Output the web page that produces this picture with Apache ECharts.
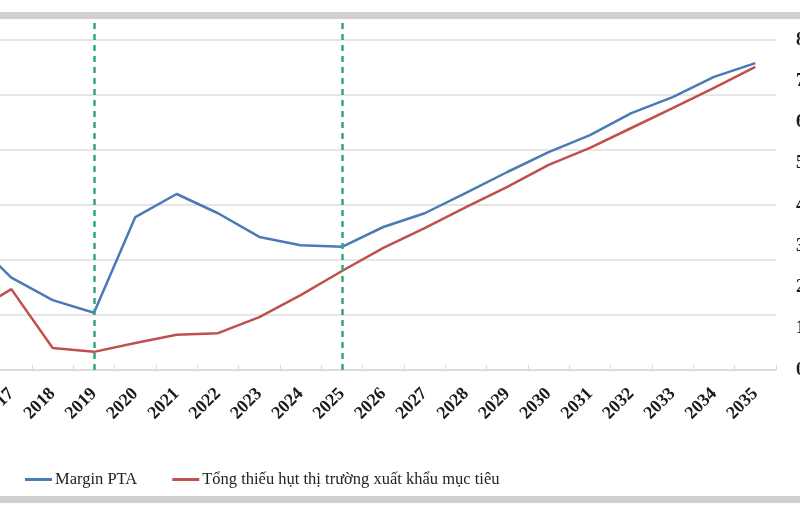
<!DOCTYPE html>
<html>
<head>
<meta charset="utf-8">
<script src="https://cdn.jsdelivr.net/npm/echarts@6/dist/echarts.min.js"></script>
<style>
  html, body { margin: 0; padding: 0; background: #fff; }
  #chart { width: 800px; height: 520px; }
</style>
</head>
<body>
<div id="chart"></div>
<script>
// categories (2016 sits just off the left edge, like the cropped source)
var years = ['2016','2017','2018','2019','2020','2021','2022','2023','2024','2025',
             '2026','2027','2028','2029','2030','2031','2032','2033','2034','2035'];
// Margin PTA
var marginPTA = [24.2, 16.8, 12.7, 10.4, 27.8, 32.0, 28.5, 24.2, 22.7, 22.4,
                 26.0, 28.5, 32.2, 36.0, 39.6, 42.7, 46.7, 49.6, 53.3, 55.8];
// Tong thieu hut thi truong xuat khau muc tieu
var shortfall = [10.2, 14.7, 4.0, 3.3, 4.9, 6.4, 6.7, 9.6, 13.6, 18.0,
                 22.2, 25.8, 29.6, 33.3, 37.3, 40.4, 44.0, 47.6, 51.3, 55.1];
// vertical dashed separators
var dividerYears = ['2019', '2025'];
var rightTicks = [0, 8, 1]; // min, max, step of the right-hand axis

var serif = '"Liberation Serif", "DejaVu Serif", serif';

var chart = echarts.init(document.getElementById('chart'));

var option = {
  backgroundColor: '#fff',
  animation: false,
  graphic: [
    { type: 'rect', shape: { x: 0, y: 12, width: 800, height: 7 }, style: { fill: '#d0d0d0' } },
    { type: 'rect', shape: { x: 0, y: 496, width: 800, height: 7 }, style: { fill: '#d0d0d0' } }
  ],
  legend: {
    left: 20,
    top: 466,
    icon: 'rect',
    itemWidth: 27,
    itemHeight: 3,
    itemGap: 35,
    textStyle: { fontFamily: serif, fontSize: 16.5, color: '#222', padding: [0, 0, 0, -2] },
    data: ['Margin PTA', 'Tổng thiếu hụt thị trường xuất khẩu mục tiêu']
  },
  grid: [
    { left: -50.67, right: 24, top: 40, bottom: 150, outerBoundsMode: 'none', containLabel: false },
    { left: -50.67, right: 24, top: 20, bottom: 150, outerBoundsMode: 'none', containLabel: false }
  ],
  xAxis: [
    {
      type: 'category',
      gridIndex: 0,
      data: years,
      boundaryGap: true,
      axisLine: { lineStyle: { color: '#d9d9d9', width: 1.5 } },
      axisTick: { show: true, inside: true, length: 5, lineStyle: { color: '#d9d9d9' } },
      axisLabel: {
        interval: 0,
        rotate: 45,
        margin: 21,
        fontFamily: serif,
        fontSize: 18,
        fontWeight: 'bold',
        color: '#1a1a1a'
      }
    },
    {
      type: 'category',
      gridIndex: 1,
      data: years,
      boundaryGap: true,
      show: false
    }
  ],
  yAxis: [
    {
      type: 'value',
      gridIndex: 0,
      min: 0,
      max: 60,
      interval: 10,
      axisLabel: { show: false },
      axisLine: { show: false },
      axisTick: { show: false },
      splitLine: { lineStyle: { color: '#dedede', width: 1.5 } }
    },
    {
      type: 'value',
      gridIndex: 0,
      position: 'right',
      min: rightTicks[0],
      max: rightTicks[1],
      interval: rightTicks[2],
      axisLine: { show: false },
      axisTick: { show: false },
      splitLine: { show: false },
      axisLabel: { margin: 20, fontFamily: serif, fontSize: 18, fontWeight: 'bold', color: '#1a1a1a' }
    },
    {
      type: 'value',
      gridIndex: 1,
      min: 0,
      max: 1,
      show: false
    }
  ],
  series: [
    {
      name: 'Margin PTA',
      type: 'line',
      data: marginPTA,
      symbol: 'none',
      lineStyle: { color: '#4a7ab8', width: 2.5 },
      itemStyle: { color: '#4a7ab8' },
      z: 3
    },
    {
      name: 'Tổng thiếu hụt thị trường xuất khẩu mục tiêu',
      type: 'line',
      data: shortfall,
      symbol: 'none',
      lineStyle: { color: '#c0504d', width: 2.5 },
      itemStyle: { color: '#c0504d' },
      z: 2
    },
    {
      name: 'dividers',
      type: 'line',
      xAxisIndex: 1,
      yAxisIndex: 2,
      data: years.map(function () { return '-'; }),
      symbol: 'none',
      silent: true,
      z: 4,
      markLine: {
        silent: true,
        symbol: 'none',
        label: { show: false },
        lineStyle: { color: '#36a574', type: [6, 5], width: 2.5 },
        data: dividerYears.map(function (y) { return { xAxis: y }; })
      }
    }
  ]
};

chart.setOption(option);
</script>
</body>
</html>
